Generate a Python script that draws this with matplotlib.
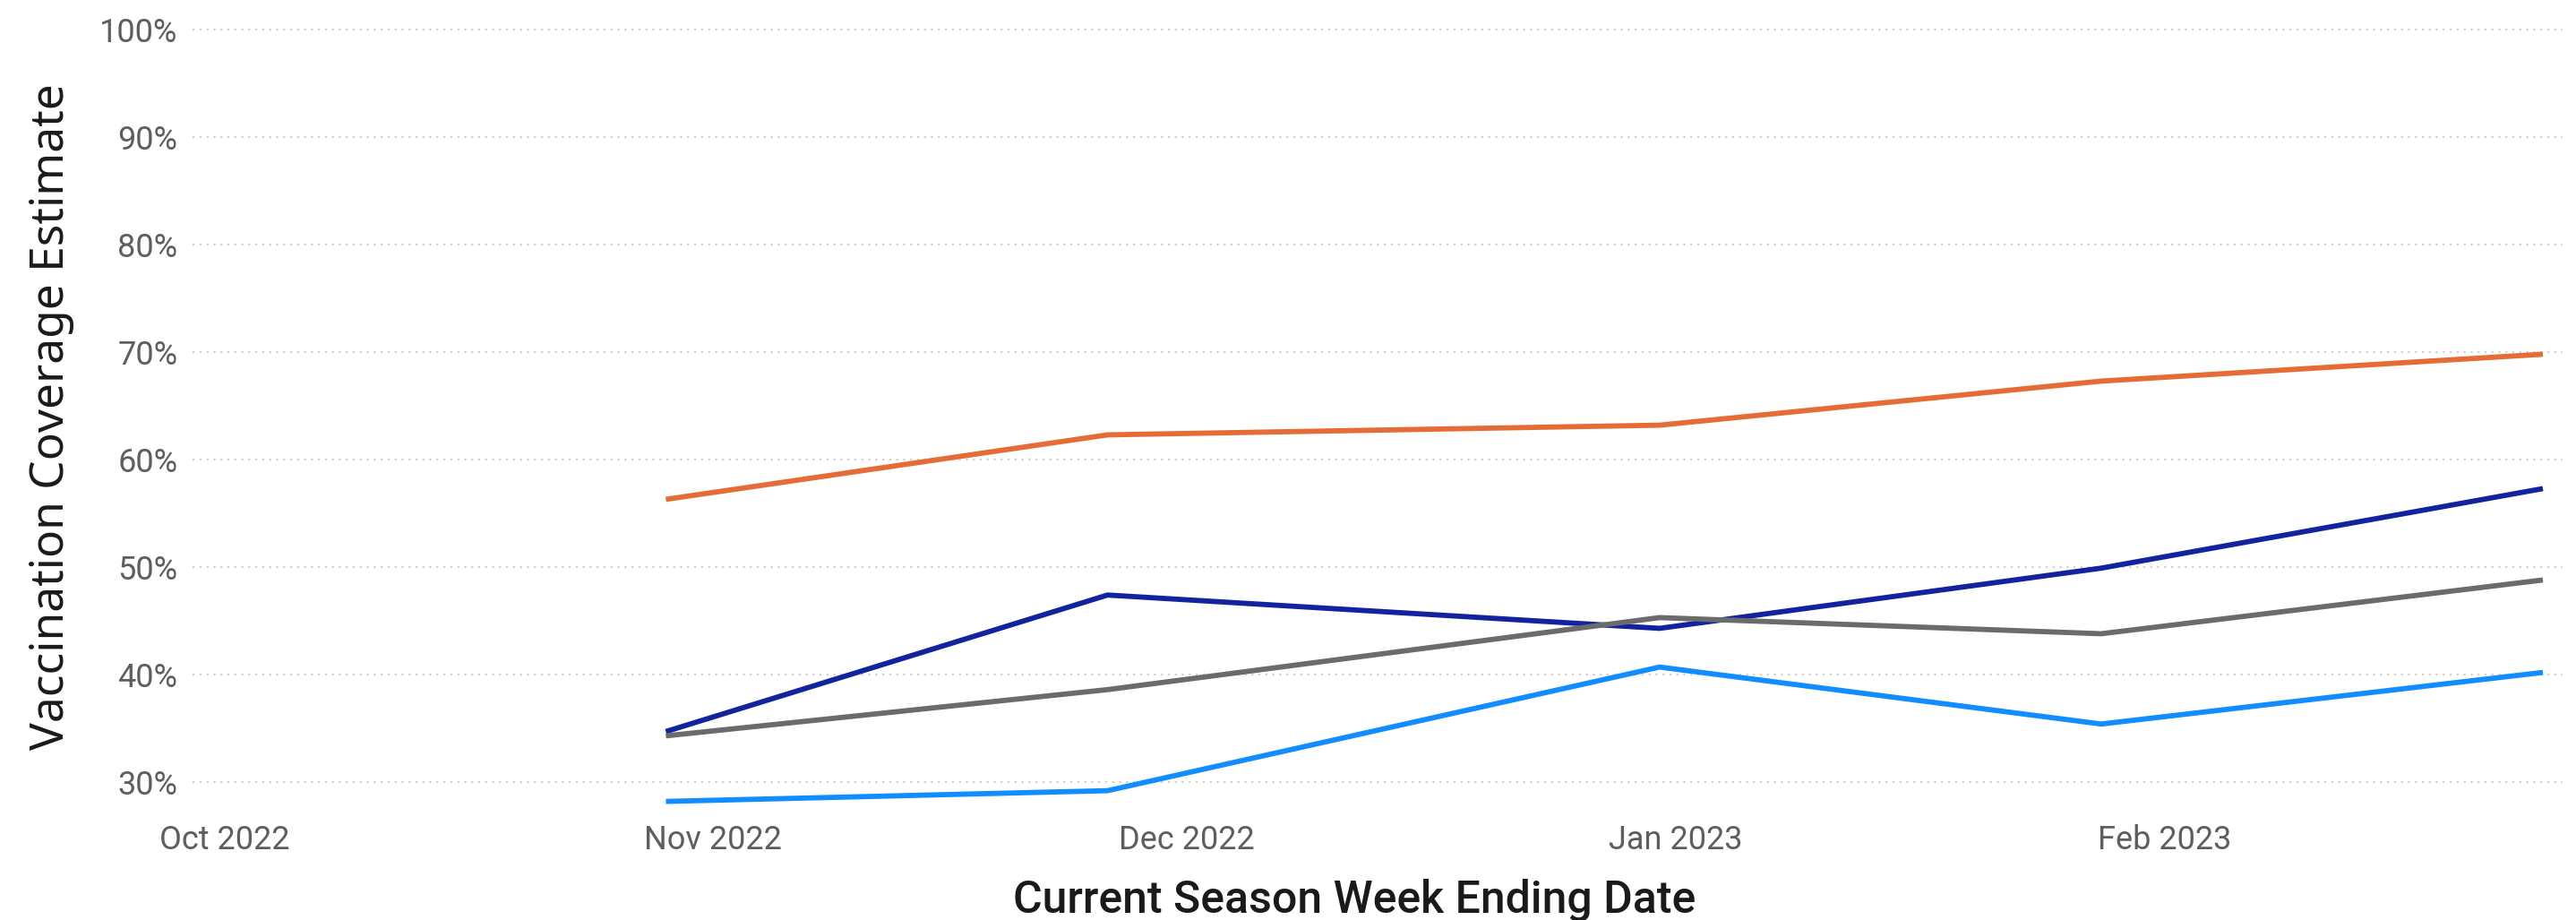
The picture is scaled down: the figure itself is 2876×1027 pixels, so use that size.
import matplotlib
matplotlib.use("Agg")
import matplotlib.pyplot as plt
import matplotlib.dates as mdates
from matplotlib.ticker import FuncFormatter
import pandas as pd

# week ending dates and coverage estimates (%)
weeks = pd.to_datetime(["2022-10-29", "2022-11-26", "2022-12-31", "2023-01-28", "2023-02-25"])
orange_vals = [56.3, 62.3, 63.2, 67.3, 69.8]
navy_vals = [34.7, 47.4, 44.3, 49.9, 57.3]
gray_vals = [34.3, 38.6, 45.3, 43.8, 48.8]
blue_vals = [28.2, 29.2, 40.7, 35.4, 40.2]

series = [
    (orange_vals, "#E66C37"),
    (navy_vals, "#12239E"),
    (gray_vals, "#6B6B6B"),
    (blue_vals, "#118DFF"),
]

fig = plt.figure(figsize=(14.38, 5.135), dpi=200)
ax = fig.add_axes([0.0748, 0.1207, 0.92, 0.853])

for vals, col in series:
    ax.plot(weeks, vals, color=col, lw=2.1, solid_capstyle="butt")

ax.set_ylim(27.5, 100.5)
ax.set_xlim(pd.Timestamp("2022-09-29"), pd.Timestamp("2023-02-26 06:00"))
ax.set_yticks(range(30, 101, 10))
ax.yaxis.set_major_formatter(FuncFormatter(lambda v, p: f"{int(v)}%"))
ax.xaxis.set_major_locator(mdates.MonthLocator())
ax.xaxis.set_major_formatter(mdates.DateFormatter("%b %Y"))

ax.grid(axis="y", color="#D0D0D0", linestyle=(0, (1, 2.5)), lw=0.8)
for s in ax.spines.values():
    s.set_visible(False)
ax.tick_params(length=0, labelsize=13, labelcolor="#605E5C", pad=6)
for lab in ax.get_xticklabels() + ax.get_yticklabels():
    lab.set_family(["Roboto", "DejaVu Sans"])

ax.set_ylabel("Vaccination Coverage Estimate", fontsize=18.5, color="#1A1A1A",
              family=["Noto Sans", "DejaVu Sans"], labelpad=10)
ax.set_xlabel("Current Season Week Ending Date", fontsize=18, color="#1A1A1A",
              family=["Roboto", "DejaVu Sans"], fontweight="medium", labelpad=9)
ax.xaxis.label.set_x(0.49)

fig.savefig("out.png", dpi=200, facecolor="white")
